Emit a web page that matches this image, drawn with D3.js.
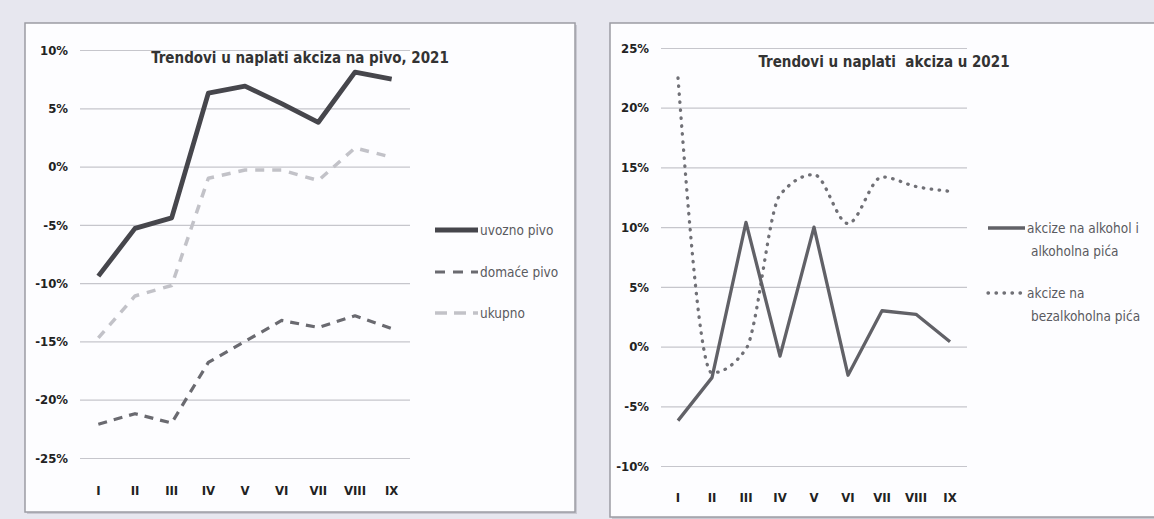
<!DOCTYPE html>
<html>
<head>
<meta charset="utf-8">
<script src="https://cdn.jsdelivr.net/npm/d3@7"></script>
<style>
  body { margin: 0; background: #e7e7ef; }
  svg { display: block; }
</style>
</head>
<body>
<div id="chart"></div>
<script>
// months on the x axis
const months = ["I", "II", "III", "IV", "V", "VI", "VII", "VIII", "IX"];

// left chart: beer excise (%)
const uvozno = [-9.4, -5.3, -4.4, 6.3, 6.9, 5.4, 3.8, 8.1, 7.5];
const domace = [-22.1, -21.2, -22.0, -16.8, -15.0, -13.2, -13.8, -12.8, -13.9];
const ukupno = [-14.7, -11.1, -10.2, -1.0, -0.3, -0.3, -1.2, 1.6, 0.8];
const leftTicks = [10, 5, 0, -5, -10, -15, -20, -25];

// right chart: alcohol / soft drinks excise (%)
const alkohol = [-6.2, -2.6, 10.4, -0.8, 10.0, -2.4, 3.0, 2.7, 0.4];
const bezalk = [22.5, -2.2, -0.2, 12.7, 14.4, 10.3, 14.2, 13.4, 13.0];
const rightTicks = [25, 20, 15, 10, 5, 0, -5, -10];

const width = 1154;
const height = 519;
const font = '"DejaVu Sans Condensed", "DejaVu Sans", sans-serif';

const svg = d3.select("#chart")
  .append("svg")
  .attr("width", width)
  .attr("height", height);

// background + panels
svg.append("rect").attr("width", width).attr("height", height).attr("fill", "#e7e7ef");

function panel(x, y, w, h) {
  svg.append("rect")
    .attr("x", x + 2).attr("y", y + 2).attr("width", w).attr("height", h)
    .attr("fill", "#c9c9d2");
  svg.append("rect")
    .attr("x", x).attr("y", y).attr("width", w).attr("height", h)
    .attr("fill", "#fdfdff")
    .attr("stroke", "#9c9ca4")
    .attr("stroke-width", 1.5);
}
panel(25, 23, 550, 489);
panel(610, 23, 545, 494);

// draws one chart: axes, grid, title, lines
function drawChart(cfg) {
  const g = svg.append("g");

  const x = d3.scaleBand().domain(months).range(cfg.xRange);
  const y = d3.scaleLinear().domain(cfg.yDomain).range(cfg.yRange);
  const cx = d => x(d) + x.bandwidth() / 2;

  // y axis with gridlines
  const yAxis = g.append("g")
    .attr("transform", `translate(${cfg.xRange[0]},0)`)
    .call(d3.axisLeft(y)
      .tickValues(cfg.ticks)
      .tickSize(-(cfg.xRange[1] - cfg.xRange[0]))
      .tickPadding(12)
      .tickFormat(d => d + "%"));
  yAxis.select(".domain").remove();
  yAxis.selectAll(".tick line").attr("stroke", "#c6c6cc").attr("stroke-width", 1.2);
  yAxis.selectAll(".tick text")
    .attr("font-size", 13).attr("font-weight", "bold").attr("fill", "#222")
    .attr("font-family", font);

  // x axis labels only
  const xAxis = g.append("g")
    .attr("transform", `translate(0,${cfg.xLabelY})`)
    .call(d3.axisBottom(x).tickSize(0).tickPadding(0));
  xAxis.select(".domain").remove();
  xAxis.selectAll(".tick text")
    .attr("font-size", 13).attr("font-weight", "bold").attr("fill", "#222")
    .attr("font-family", font).attr("dy", "0.35em");

  // title
  g.append("text")
    .attr("x", cfg.titleX).attr("y", cfg.titleY)
    .attr("text-anchor", "middle")
    .attr("font-family", font).attr("font-size", 15).attr("font-weight", "bold")
    .attr("fill", "#333")
    .style("white-space", "pre")
    .text(cfg.title);

  cfg.series.forEach(s => {
    const line = d3.line()
      .x((d, i) => cx(months[i]))
      .y(d => y(d))
      .curve(s.smooth ? d3.curveMonotoneX : d3.curveLinear);
    g.append("path")
      .datum(s.values)
      .attr("d", line)
      .attr("fill", "none")
      .attr("stroke", s.color)
      .attr("stroke-width", s.width)
      .attr("stroke-dasharray", s.dash || null)
      .attr("stroke-linecap", s.cap || "butt")
      .attr("stroke-linejoin", "round");
  });

  // legend
  cfg.series.forEach(s => {
    const lg = g.append("g").attr("transform", `translate(${cfg.legendX},${s.legendY})`);
    lg.append("line")
      .attr("x1", 0).attr("x2", cfg.legendLen).attr("y1", 0).attr("y2", 0)
      .attr("stroke", s.color).attr("stroke-width", s.width)
      .attr("stroke-dasharray", s.legendDash || s.dash || null)
      .attr("stroke-linecap", s.cap || "butt");
    s.label.forEach((t, i) => {
      lg.append("text")
        .attr("x", cfg.legendLen + 2 + (i > 0 ? 4 : 0)).attr("y", i * 23)
        .attr("dy", "0.35em")
        .attr("font-family", font).attr("font-size", 13.5)
        .attr("fill", "#5a5a60")
        .text(t);
    });
  });
}

drawChart({
  xRange: [80, 410],
  yDomain: [-25, 10],
  yRange: [458, 50],
  ticks: leftTicks,
  xLabelY: 490,
  title: "Trendovi u naplati akciza na pivo, 2021",
  titleX: 300,
  titleY: 63,
  legendX: 435,
  legendLen: 43,
  series: [
    { values: ukupno, color: "#c2c2c8", width: 3.5, dash: "9,8", legendDash: "12,7", label: ["ukupno"], legendY: 313 },
    { values: domace, color: "#6a6a70", width: 3.2, dash: "9,7", legendDash: "10,8", label: ["domaće pivo"], legendY: 272 },
    { values: uvozno, color: "#46464c", width: 4.8, label: ["uvozno pivo"], legendY: 230 }
  ]
});

drawChart({
  xRange: [661, 967],
  yDomain: [-10, 25],
  yRange: [466, 48],
  ticks: rightTicks,
  xLabelY: 497,
  title: "Trendovi u naplati  akciza u 2021",
  titleX: 884,
  titleY: 67,
  legendX: 988,
  legendLen: 37,
  series: [
    { values: bezalk, color: "#707076", width: 3.3, dash: "0.5,7.5", cap: "round", smooth: true, label: ["akcize na", "bezalkoholna pića"], legendY: 293 },
    { values: alkohol, color: "#616167", width: 3.3, label: ["akcize na alkohol i", "alkoholna pića"], legendY: 228 }
  ]
});
</script>
</body>
</html>
